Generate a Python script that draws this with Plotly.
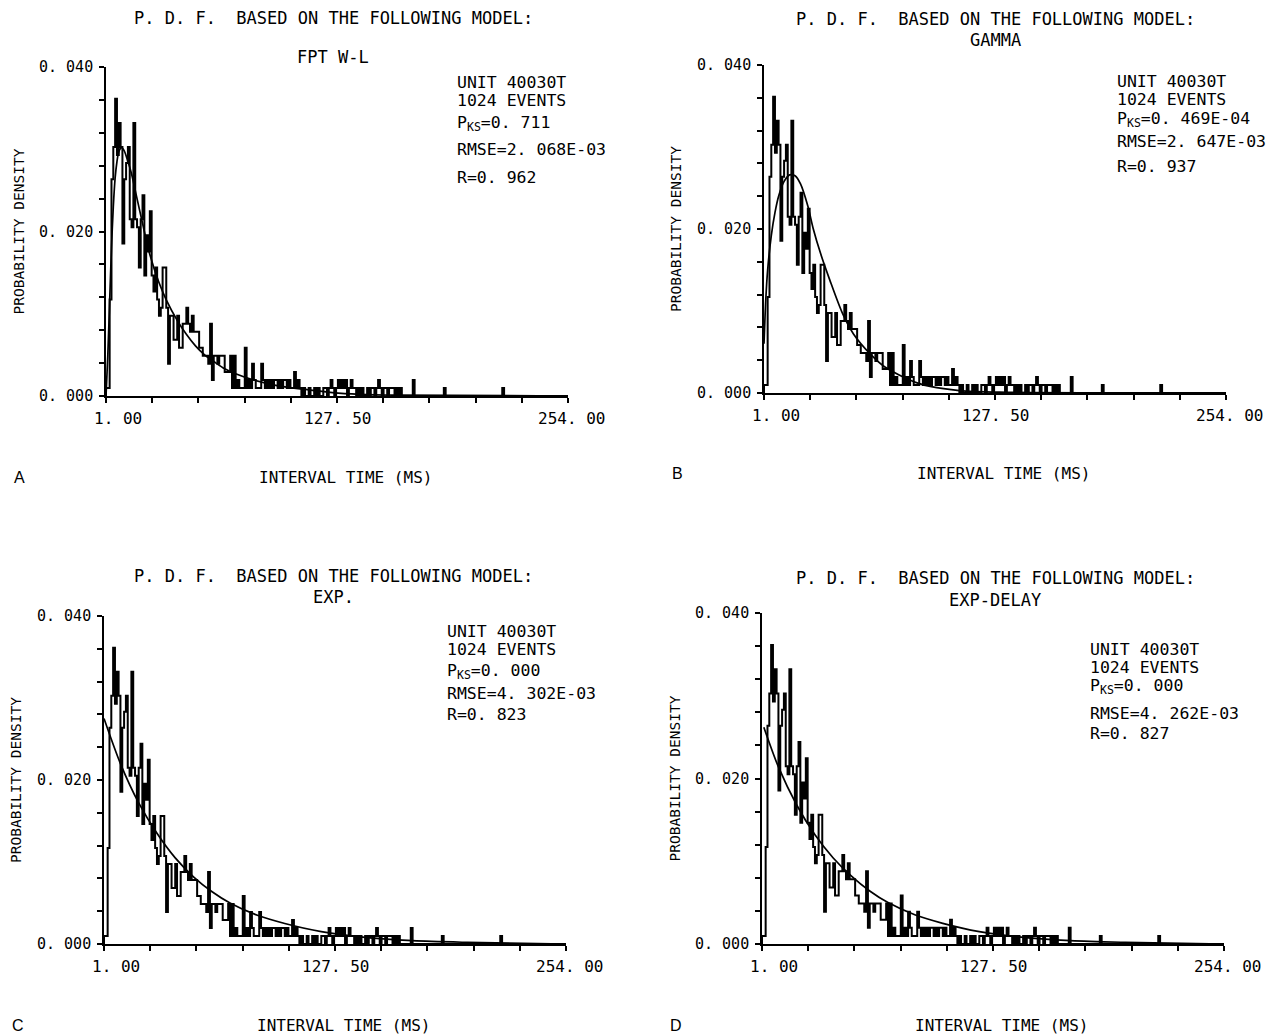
import plotly.graph_objects as go

W, H = 1273, 1035

# ---------------- data ----------------
N_EVENTS = 1024
# counts per 1 ms bin, bins starting at 1, 2, 3, ... ms
counts_head = [
    1, 1, 12, 27, 31, 37, 30, 34, 31, 19,
    27, 29, 31, 22, 21, 34, 22, 21, 16, 22,
    25, 15, 20, 18, 23, 15, 13, 16, 12, 10,
    11, 16, 16, 11, 4, 10, 10, 7, 7, 10,
    6, 6, 9, 9, 11, 9, 8, 10, 8, 8,
    8, 6, 6, 5, 5, 5, 4, 9, 2, 5,
    5, 4, 5, 5, 5, 3, 3, 3, 5, 1,
    5, 1, 2, 1, 1, 1, 6, 1, 2, 1,
    4, 2, 1, 1, 1, 4, 2, 1, 2, 1,
    2, 1, 2, 2, 1, 2, 1, 2, 2, 1,
    2, 1, 1, 3, 1, 2, 1, 0, 1, 0,
    0, 1, 0, 0, 1, 0, 1, 0, 0, 1,
    1, 0, 1, 2, 1, 0, 1, 2, 1, 2,
    1, 2, 0, 1, 2, 1, 1, 0, 1, 0,
    1, 0, 0, 1, 0, 1, 1, 0, 1, 2,
    1, 0, 1, 1, 0, 1, 1, 1, 0, 1,
    0, 1, 0, 0, 0, 0, 0, 0, 2, 0,
]
tail_bins = [186, 218]
tail_counts = [1, 1]
X_MIN, X_MAX = 1, 254

# fitted model curves
fpt_x = [1, 2, 3, 4, 5, 6, 7, 8, 9.5, 11, 13, 15, 18, 21, 25, 30, 34, 40, 45, 50,
         55, 60, 66, 72, 81, 94, 110, 125, 140, 160, 254]
fpt_y = [0.0, 0.005, 0.0115, 0.018, 0.023, 0.0265, 0.0285, 0.0297, 0.0302, 0.0298,
         0.0285, 0.027, 0.024, 0.021, 0.0172, 0.0138, 0.0117, 0.0092, 0.0075, 0.0061,
         0.0050, 0.0042, 0.0033, 0.0027, 0.0020, 0.0013, 0.0008, 0.0004, 0.0002, 0.0001, 0.0]

gam_x = [1, 2, 3, 5, 7, 9, 12, 15, 18, 21, 25, 28, 32, 37, 44, 50, 59, 67, 75, 84, 92,
         108, 130, 254]
gam_y = [0.006, 0.0115, 0.0150, 0.0192, 0.0220, 0.0240, 0.0258, 0.0266, 0.0265, 0.0255,
         0.0228, 0.0200, 0.0170, 0.0138, 0.0097, 0.0072, 0.0048, 0.0032, 0.0022, 0.0013,
         0.0008, 0.0003, 0.0001, 0.0]

exp_x = [1, 10, 20, 30, 40, 50, 60, 70, 85, 100, 120, 140, 170, 200, 254]
exp_y = [0.0275, 0.0220, 0.0172, 0.0135, 0.0105, 0.0082, 0.0064, 0.0050, 0.0035,
         0.0025, 0.0015, 0.0009, 0.0004, 0.0002, 0.0]

expd_x = [2, 10, 20, 30, 40, 50, 60, 70, 85, 100, 120, 140, 170, 200, 254]
expd_y = [0.0262, 0.0214, 0.0168, 0.0132, 0.0104, 0.0082, 0.0064, 0.0050, 0.0035,
          0.0025, 0.0015, 0.0009, 0.0004, 0.0002, 0.0]

models = ["FPT W-L", "GAMMA", "EXP.", "EXP-DELAY"]
p_ks = ["0. 711", "0. 469E-04", "0. 000", "0. 000"]
rmse = ["2. 068E-03", "2. 647E-03", "4. 302E-03", "4. 262E-03"]
r_val = ["0. 962", "0. 937", "0. 823", "0. 827"]
panel_letters = ["A", "B", "C", "D"]
unit_label = "UNIT 40030T"
events_label = "1024 EVENTS"
title_text = "P. D. F.  BASED ON THE FOLLOWING MODEL:"
y_ticklabels = ["0. 000", "0. 020", "0. 040"]
y_tickvals = [0.0, 0.020, 0.040]
x_ticklabels = ["1. 00", "127. 50", "254. 00"]
x_tickvals = [1.0, 127.5, 254.0]

# ---------------- build histogram ----------------
counts = counts_head + [0] * ((X_MAX - X_MIN) - len(counts_head))
for b, c in zip(tail_bins, tail_counts):
    counts[b - X_MIN] = c
dens = [c / N_EVENTS for c in counts]
hx = [X_MIN] + list(range(X_MIN, X_MAX)) + [X_MAX, X_MAX]
hy = [0.0] + dens + [dens[-1], 0.0]

curves = [(fpt_x, fpt_y), (gam_x, gam_y), (exp_x, exp_y), (expd_x, expd_y)]

# ---------------- layout geometry (page pixels) ----------------
# (left, right, top, bottom) of each plotting area
boxes = [
    (106, 568, 67, 396),
    (764, 1226, 65, 393),
    (104, 566, 616, 944),
    (762, 1224, 613, 944),
]
title_pos = [(333, 18), (995, 19), (333, 576), (995, 578)]
sub_pos = [(333, 57), (995, 40), (333, 597), (995, 600)]
stat_x = [455, 1115, 445, 1088]
stat_y = [[83, 101, 123, 150, 177], [82, 100, 120, 141, 166], [631, 649, 671, 693, 714],
          [649, 667, 686, 713, 733]]
FONT = "DejaVu Sans Mono"


def px(x):
    return x / W


def py(y):
    return 1 - y / H


fig = go.Figure()
annotations = []

for i, (l, r, t, b) in enumerate(boxes):
    n = "" if i == 0 else str(i + 1)
    xa, ya = "x" + n, "y" + n
    fig.add_trace(go.Scatter(x=hx, y=hy, mode="lines", line=dict(color="black", width=2, shape="hv"),
                             xaxis=xa, yaxis=ya, showlegend=False, hoverinfo="skip"))
    cx, cy = curves[i]
    fig.add_trace(go.Scatter(x=cx, y=cy, mode="lines", line=dict(color="black", width=1.7, shape="spline", smoothing=0.8),
                             xaxis=xa, yaxis=ya, showlegend=False, hoverinfo="skip"))
    xdtick = (X_MAX - X_MIN) / 10
    fig.layout["xaxis" + n] = dict(
        domain=[px(l), px(r)], anchor=ya, range=[X_MIN, X_MAX],
        showline=True, linecolor="black", linewidth=2, showgrid=False, zeroline=False,
        ticks="outside", ticklen=5, tickwidth=1.5, tickcolor="black",
        tickvals=[X_MIN + k * xdtick for k in range(11)], showticklabels=False,
    )
    fig.layout["yaxis" + n] = dict(
        domain=[py(b), py(t)], anchor=xa, range=[0, 0.040],
        showline=True, linecolor="black", linewidth=2, showgrid=False, zeroline=False,
        ticks="outside", ticklen=5, tickwidth=1.5, tickcolor="black",
        tickvals=[k * 0.004 for k in range(11)], showticklabels=False,
    )
    # y tick labels
    for v, s in zip(y_tickvals, y_ticklabels):
        yy = b - (b - t) * v / 0.040
        annotations.append(dict(x=px(l - 11), y=py(yy), xref="paper", yref="paper", text=s,
                                showarrow=False, xanchor="right", yanchor="middle",
                                font=dict(family=FONT, size=15, color="black")))
    # x tick labels
    for v, s in zip(x_tickvals, x_ticklabels):
        xx = l + (r - l) * (v - X_MIN) / (X_MAX - X_MIN)
        off = 12 if v == X_MIN else (0 if v == 127.5 else 3)
        annotations.append(dict(x=px(xx + off), y=py(b + 22), xref="paper", yref="paper", text=s,
                                showarrow=False, xanchor="center", yanchor="middle",
                                font=dict(family=FONT, size=16, color="black")))
    # titles
    tx, ty = title_pos[i]
    annotations.append(dict(x=px(tx), y=py(ty), xref="paper", yref="paper",
                            text=title_text, showarrow=False,
                            xanchor="center", yanchor="middle", font=dict(family=FONT, size=17, color="black")))
    sx_, sy_ = sub_pos[i]
    annotations.append(dict(x=px(sx_), y=py(sy_), xref="paper", yref="paper",
                            text=models[i], showarrow=False, xanchor="center", yanchor="middle",
                            font=dict(family=FONT, size=17, color="black")))
    # stats block
    lines = [unit_label, events_label, "P<sub>KS</sub>=" + p_ks[i], "RMSE=" + rmse[i], "R=" + r_val[i]]
    for yy, s in zip(stat_y[i], lines):
        annotations.append(dict(x=px(stat_x[i]), y=py(yy), xref="paper", yref="paper", text=s,
                                showarrow=False, xanchor="left", yanchor="middle",
                                font=dict(family=FONT, size=16.5, color="black")))
    # axis titles
    cxp = (l + r) / 2
    annotations.append(dict(x=px(l - 88), y=py((t + b) / 2), xref="paper", yref="paper",
                            text="PROBABILITY DENSITY", showarrow=False, textangle=-90,
                            xanchor="center", yanchor="middle", font=dict(family=FONT, size=14.5, color="black")))
    annotations.append(dict(x=px(cxp + 8), y=py(b + 81), xref="paper", yref="paper",
                            text="INTERVAL TIME (MS)", showarrow=False, xanchor="center", yanchor="middle",
                            font=dict(family=FONT, size=16, color="black")))
    annotations.append(dict(x=px(l - 94), y=py(b + 81), xref="paper", yref="paper",
                            text=panel_letters[i], showarrow=False, xanchor="left", yanchor="middle",
                            font=dict(family="Liberation Sans", size=16, color="black")))

fig.update_layout(
    width=W, height=H, margin=dict(l=0, r=0, t=0, b=0),
    paper_bgcolor="white", plot_bgcolor="white",
    annotations=annotations, showlegend=False,
)

fig.write_html("out.html", config={"displayModeBar": False},
               post_script="document.body.style.margin='0px';document.body.style.overflow='hidden';")
